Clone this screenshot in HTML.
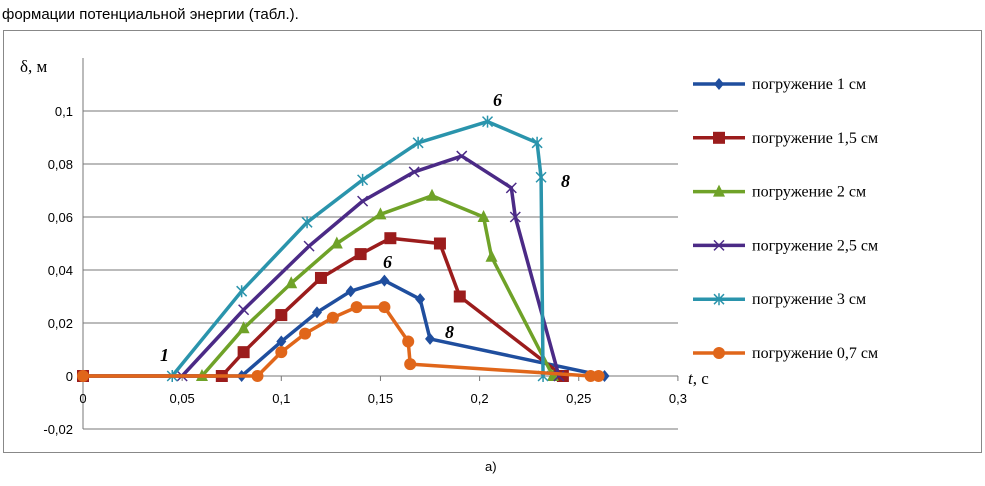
<!DOCTYPE html>
<html><head><meta charset="utf-8"><style>
body{margin:0;background:#fff;width:985px;height:481px;overflow:hidden;font-family:"Liberation Sans",sans-serif}
svg text{font-family:"Liberation Serif",serif}
svg text.sans{font-family:"Liberation Sans",sans-serif}
</style></head><body>
<svg id="c" width="985" height="481">
<text class="sans" x="2" y="19" font-size="15">формации потенциальной энергии (табл.).</text>
<rect x="3.5" y="30.5" width="978" height="422" fill="none" stroke="#888"/>
<text class="sans" x="485" y="471" font-size="13">а)</text>
<g id="grid"></g><g id="series"></g><g id="legend"></g>
<text x="20" y="72" font-size="17">δ, м</text>
<text x="688" y="384" font-size="17"><tspan font-style="italic">t</tspan>, с</text>
<g font-size="18" font-style="italic" font-weight="bold">
<text x="160" y="361">1</text>
<text x="493" y="106">6</text>
<text x="561" y="187">8</text>
<text x="383" y="268">6</text>
<text x="445" y="338">8</text>
</g>
</svg>
<script>
const xTicks=[0,0.05,0.1,0.15,0.2,0.25,0.3];
const xTickLabels=["0","0,05","0,1","0,15","0,2","0,25","0,3"];
const yTicks=[-0.02,0,0.02,0.04,0.06,0.08,0.1];
const yTickLabels=["-0,02","0","0,02","0,04","0,06","0,08","0,1"];
const names=["погружение 1 см","погружение 1,5 см","погружение 2 см","погружение 2,5 см","погружение 3 см","погружение 0,7 см"];
const colors=["#1f4e9e","#9b1c1c","#6fa228","#4b2a86","#2a94ac","#e0661a"];
const markers=["diamond","square","triangle","x","star","circle"];
const s1x=[0,0.08,0.1,0.118,0.135,0.152,0.17,0.175,0.263];
const s1y=[0,0,0.013,0.024,0.032,0.036,0.029,0.014,0];
const s2x=[0,0.07,0.081,0.1,0.12,0.14,0.155,0.18,0.19,0.242];
const s2y=[0,0,0.009,0.023,0.037,0.046,0.052,0.05,0.03,0];
const s3x=[0.06,0.081,0.105,0.128,0.15,0.176,0.202,0.206,0.237];
const s3y=[0,0.018,0.035,0.05,0.061,0.068,0.06,0.045,0];
const s4x=[0.05,0.081,0.114,0.141,0.167,0.191,0.216,0.218,0.24];
const s4y=[0,0.025,0.049,0.066,0.077,0.083,0.071,0.06,0];
const s5x=[0.045,0.08,0.113,0.141,0.169,0.204,0.229,0.231,0.232];
const s5y=[0,0.032,0.058,0.074,0.088,0.096,0.088,0.075,0];
const s6x=[0,0.088,0.1,0.112,0.126,0.138,0.152,0.164,0.165,0.256,0.26];
const s6y=[0,0,0.009,0.016,0.022,0.026,0.026,0.013,0.0045,0,0];
const SX=[s1x,s2x,s3x,s4x,s5x,s6x], SY=[s1y,s2y,s3y,s4y,s5y,s6y];
const X=v=>83+v*1983, Y=v=>376-v*2650;
const NS="http://www.w3.org/2000/svg";
function mk(p,t,a){const e=document.createElementNS(NS,t);for(const k in a)e.setAttribute(k,a[k]);p.appendChild(e);return e;}
const grid=document.getElementById('grid');
yTicks.forEach((v,i)=>{
 if(v!==0){const l=mk(grid,'line',{x1:83,x2:678,y1:Y(v),y2:Y(v),stroke:'#777','stroke-width':1});
 
 }
 const t=mk(grid,'text',{x:73,y:Y(v)+5,'text-anchor':'end','font-size':13,'class':'sans'});t.textContent=yTickLabels[i];
 
 
});
const ax=mk(grid,'line',{x1:83,x2:83,y1:58,y2:Y(-0.02),stroke:'#777'});


const xa=mk(grid,'line',{x1:83,x2:678,y1:Y(0),y2:Y(0),stroke:'#777'});


xTicks.forEach((v,i)=>{
 mk(grid,'line',{x1:X(v),x2:X(v),y1:Y(0),y2:Y(0)+5,stroke:'#777'});
 const t=mk(grid,'text',{x:X(v),y:Y(0)+27,'text-anchor':'middle','font-size':13,'class':'sans'});t.textContent=xTickLabels[i];
 
 
});
function marker(g,type,x,y,c){
 if(type==='diamond')mk(g,'polygon',{points:`${x},${y-6} ${x+5},${y} ${x},${y+6} ${x-5},${y}`,fill:c});
 else if(type==='square')mk(g,'rect',{x:x-6,y:y-6,width:12,height:12,fill:c});
 else if(type==='triangle')mk(g,'polygon',{points:`${x},${y-7} ${x+6},${y+5} ${x-6},${y+5}`,fill:c});
 else if(type==='circle')mk(g,'circle',{cx:x,cy:y,r:6,fill:c});
 else{mk(g,'path',{d:`M${x-5},${y-5}L${x+5},${y+5}M${x-5},${y+5}L${x+5},${y-5}`+(type==='star'?`M${x},${y-6}L${x},${y+6}`:''),stroke:c,'stroke-width':1.5,fill:'none'});}
}
const sg=document.getElementById('series'), lg=document.getElementById('legend');
SX.forEach((xs,k)=>{
 const g=mk(sg,'g',{});
 
 
 mk(g,'polyline',{points:xs.map((x,i)=>X(x)+','+Y(SY[k][i])).join(' '),fill:'none',stroke:colors[k],'stroke-width':3.5,'stroke-linejoin':'round'});
 xs.forEach((x,i)=>marker(g,markers[k],X(x),Y(SY[k][i]),colors[k]));
 const ly=84+k*53.8;
 const e=mk(lg,'g',{});
 
 
 mk(e,'line',{x1:693,x2:745,y1:ly,y2:ly,stroke:colors[k],'stroke-width':3.5});
 marker(e,markers[k],719,ly,colors[k]);
 const t=mk(e,'text',{x:752,y:ly+5,'font-size':16});t.textContent=names[k];
});
</script>
</body></html>
